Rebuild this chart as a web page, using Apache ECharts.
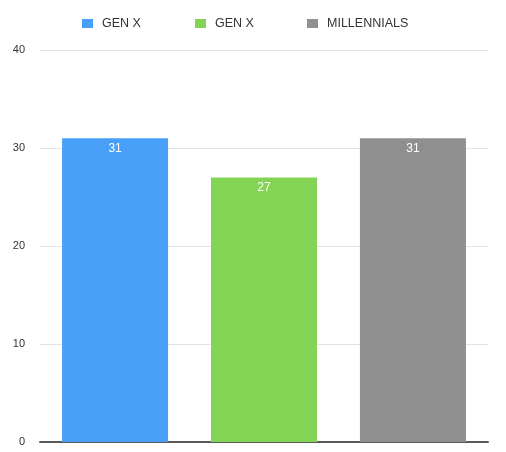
<!DOCTYPE html>
<html>
<head>
<meta charset="utf-8">
<script src="https://cdn.jsdelivr.net/npm/echarts@6/dist/echarts.min.js"></script>
<style>html,body{margin:0;padding:0;background:#fff;}#c{width:506px;height:452px;}</style>
</head>
<body>
<div id="c"></div>
<script>
const categories = [''];
const seriesNames = ['GEN X', 'GEN X ', 'MILLENNIALS'];
const seriesValues = [[31], [27], [31]];
const seriesColors = ['#479ff8', '#83d455', '#8f8f8f'];
const yTicks = [0, 10, 20, 30, 40];

const chart = echarts.init(document.getElementById('c'));
const font = 'Liberation Sans, Arial, Helvetica, sans-serif';
const legendLefts = [77, 190, 302];
chart.setOption({
  animation: false,
  textStyle: { fontFamily: font },
  legend: seriesNames.map((n, i) => ({
    data: [n],
    left: legendLefts[i],
    top: 12,
    itemWidth: 11,
    itemHeight: 9,
    itemGap: 0,
    icon: 'rect',
    textStyle: { fontSize: 12.5, color: '#333', fontFamily: font, padding: [0, 0, 0, 4] }
  })),
  grid: { left: 40, right: 18, top: 50, bottom: 10, containLabel: false },
  xAxis: {
    type: 'category',
    data: categories,
    axisLine: { lineStyle: { color: '#5a5a5a', width: 2 } },
    axisTick: { show: false },
    axisLabel: { show: false }
  },
  yAxis: {
    type: 'value',
    min: yTicks[0],
    max: yTicks[yTicks.length - 1],
    interval: 10,
    axisLine: { show: false },
    axisTick: { show: false },
    axisLabel: { fontSize: 11, color: '#333', margin: 15, fontFamily: font },
    splitLine: { lineStyle: { color: '#e3e3e3', width: 1 } }
  },
  series: seriesNames.map((n, i) => ({
    name: n,
    type: 'bar',
    data: seriesValues[i],
    barWidth: 106,
    barGap: '40.5%',
    itemStyle: { color: seriesColors[i] },
    label: {
      show: true,
      position: 'insideTop',
      distance: 4,
      color: '#fff',
      fontSize: 12,
      fontFamily: font
    }
  }))
});
</script>
</body>
</html>
